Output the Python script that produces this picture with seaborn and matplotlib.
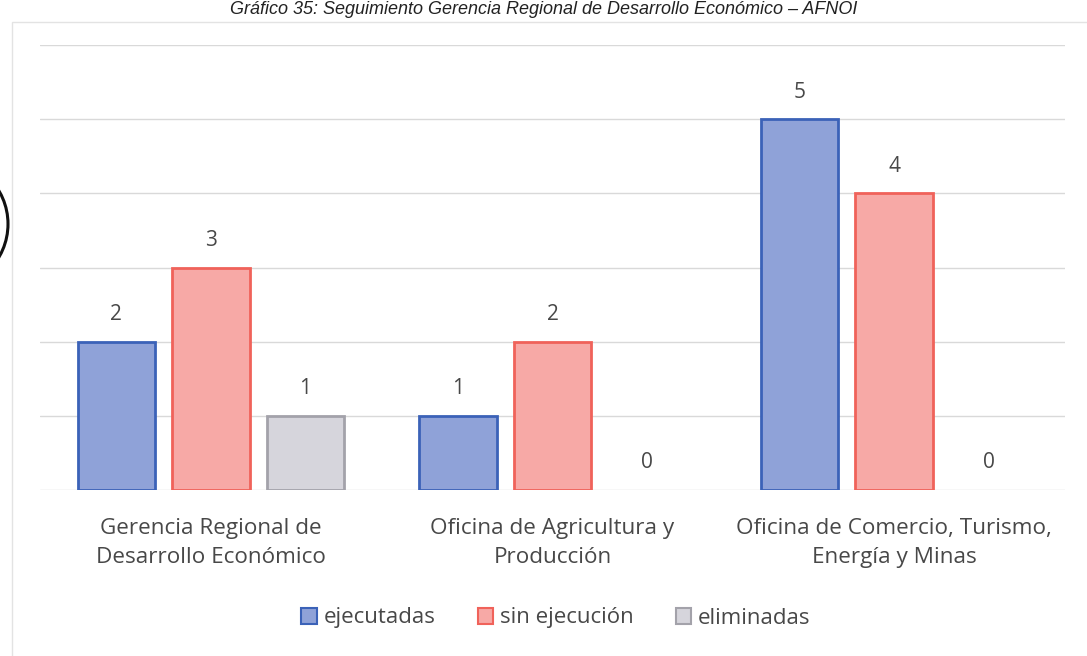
import matplotlib
matplotlib.use("Agg")
import matplotlib.pyplot as plt
from matplotlib.patches import Rectangle, Ellipse
import seaborn as sns
import pandas as pd

categorias = [
    "Gerencia Regional de\nDesarrollo Económico",
    "Oficina de Agricultura y\nProducción",
    "Oficina de Comercio, Turismo,\nEnergía y Minas",
]
series = ["ejecutadas", "sin ejecución", "eliminadas"]
ejecutadas = [2, 1, 5]
sin_ejecucion = [3, 2, 4]
eliminadas = [1, 0, 0]

fills = ["#8FA2D8", "#F7A9A6", "#D6D5DC"]
edges = ["#3B62B8", "#F0625A", "#A3A2AA"]

df = pd.DataFrame({
    "categoria": categorias * 3,
    "serie": [s for s in series for _ in categorias],
    "valor": ejecutadas + sin_ejecucion + eliminadas,
})

sns.set_theme(style="white")
plt.rcParams["font.family"] = ["Open Sans", "DejaVu Sans"]
TXT = "#484848"

fig = plt.figure(figsize=(10.87, 6.56), dpi=100)
ax = fig.add_axes([40 / 1087, 166 / 656, 1025 / 1087, 445 / 656])

sns.barplot(data=df, x="categoria", y="valor", hue="serie", order=categorias,
            hue_order=series, palette=fills, saturation=1, width=0.83, gap=0.18,
            ax=ax, legend=False)

for container, ec in zip(ax.containers, edges):
    for bar, v in zip(container, container.datavalues):
        bar.set_edgecolor(ec)
        bar.set_linewidth(2 if v > 0 else 0)
    ax.bar_label(container, labels=[f"{int(v)}" for v in container.datavalues],
                 padding=12, fontsize=15, color=TXT)

ax.set_ylim(0, 6)
ax.set_yticks(range(0, 7))
ax.set_yticklabels([])
ax.grid(axis="y", color="#D9D9D9", linewidth=1)
ax.set_axisbelow(True)
for s in ax.spines.values():
    s.set_visible(False)
ax.set_xlabel("")
ax.set_ylabel("")
ax.tick_params(axis="x", length=0, pad=20, labelsize=16.2, labelcolor=TXT)
ax.tick_params(axis="y", length=0)
for lbl in ax.get_xticklabels():
    lbl.set_linespacing(1.5)

# Legend
handles = [Rectangle((0, 0), 1, 1, facecolor=f, edgecolor=e, linewidth=1.5)
           for f, e in zip(fills, edges)]
fig.legend(handles, series, loc="center", bbox_to_anchor=(556 / 1087, 1 - 618 / 656),
           ncol=3, frameon=False, fontsize=16, handlelength=0.7, handleheight=0.7,
           handletextpad=0.3, columnspacing=1.9, labelcolor=TXT)

# Chart frame
frame = Rectangle((12 / 1087, -0.01), 1.1, 1 - 22 / 656 + 0.01, transform=fig.transFigure,
                  fill=False, edgecolor="#E3E3E3", linewidth=1)
fig.add_artist(frame)

# Caption
fig.text(0.5, 1 - 10 / 656, "Gráfico 35: Seguimiento Gerencia Regional de Desarrollo Económico – AFNOI",
         ha="center", va="center", fontsize=13, style="italic", color="#222222",
         family=["Liberation Sans", "DejaVu Sans"])

# Pen mark on the left margin
fig.add_artist(Ellipse((-62 / 1087, 1 - 224 / 656), 140 / 1087, 135 / 656,
                       transform=fig.transFigure, fill=False, edgecolor="#111111",
                       linewidth=2.2))

fig.savefig("out.png", dpi=100, facecolor="white")
